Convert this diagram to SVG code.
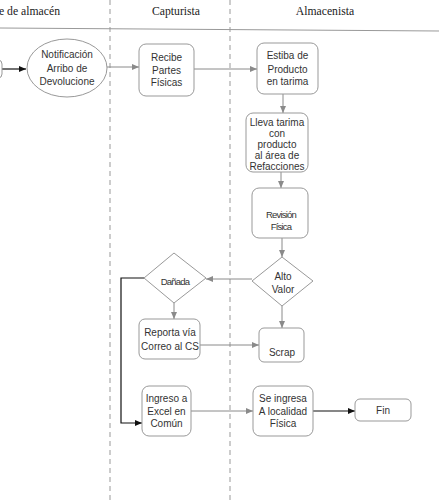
<svg xmlns="http://www.w3.org/2000/svg" width="439" height="503" viewBox="0 0 439 503">
<defs>
<marker id="ag" markerWidth="8" markerHeight="8" refX="7" refY="4" orient="auto" markerUnits="userSpaceOnUse"><path d="M0,1 L7,4 L0,7 Z" fill="#8a8a8a"/></marker>
<marker id="ak" markerWidth="8" markerHeight="8" refX="7" refY="4" orient="auto" markerUnits="userSpaceOnUse"><path d="M0,1 L7,4 L0,7 Z" fill="#111"/></marker>
<style>
.hd{font-family:"Liberation Serif",serif;font-size:11.7px;fill:#222}
.t{font-family:"Liberation Sans",Arial,sans-serif;font-size:10px;fill:#333;text-anchor:middle}
.c{font-family:"Liberation Sans",Arial,sans-serif;font-size:9.5px;fill:#333;text-anchor:middle;letter-spacing:-0.8px}
.box{fill:#fff;stroke:#999;stroke-width:1}
.lane{stroke:#999;stroke-width:1;stroke-dasharray:5 4;fill:none}
.cg{stroke:#8a8a8a;stroke-width:1;fill:none;marker-end:url(#ag)}
.ck{stroke:#111;stroke-width:1.2;fill:none;marker-end:url(#ak)}
</style>
</defs>
<rect width="439" height="503" fill="#fff"/>
<g id="header">
<text class="hd" x="-1" y="15">e de almacén</text>
<text class="hd" x="176" y="15" text-anchor="middle">Capturista</text>
<text class="hd" x="325" y="15" text-anchor="middle">Almacenista</text>
<line x1="0" y1="28" x2="439" y2="31" stroke="#999" stroke-width="1"/>
<line class="lane" x1="110" y1="0" x2="110" y2="503"/>
<line class="lane" x1="230" y1="0" x2="230" y2="503"/>
</g>
<g id="connectors">
<path class="ck" d="M2,69 L26,69"/>
<path class="cg" d="M107,67 L139,67"/>
<path class="cg" d="M194,69 L257,69"/>
<path class="cg" d="M283,94 L283,113"/>
<path class="cg" d="M281,172 L281,188"/>
<path class="cg" d="M282,238 L282,257"/>
<path class="cg" d="M282,306 L282,328"/>
<path class="cg" d="M252,279 L206,279"/>
<path class="cg" d="M174,303 L174,319"/>
<path class="cg" d="M197,345 L259,345"/>
<path class="ck" d="M144,278 L121,278 L121,423 L142,423"/>
<path class="cg" d="M191,411 L253,411"/>
<path class="ck" d="M313,411 L355,411"/>
</g>
<g id="start"><rect class="box" x="-12" y="60" width="14" height="18" rx="4"/></g>
<g id="notificacion">
<ellipse class="box" cx="67" cy="68" rx="40" ry="29"/>
<text class="t" x="67" y="57.5">Notificación</text>
<text class="t" x="67" y="71.5">Arribo de</text>
<text class="t" x="67" y="84.5">Devolucione</text>
</g>
<g id="recibe">
<rect class="box" x="139" y="44" width="55" height="52" rx="7"/>
<text class="t" x="166.5" y="61">Recibe</text>
<text class="t" x="166.5" y="74">Partes</text>
<text class="t" x="166.5" y="86">Físicas</text>
</g>
<g id="estiba">
<rect class="box" x="257" y="43" width="61" height="51" rx="7"/>
<text class="t" x="287.5" y="59">Estiba de</text>
<text class="t" x="287.5" y="72.5">Producto</text>
<text class="t" x="287.5" y="84.5">en tarima</text>
</g>
<g id="lleva">
<rect class="box" x="246" y="113" width="62" height="59" rx="7"/>
<text class="t" x="277" y="125.5">Lleva tarima</text>
<text class="t" x="277" y="136.5">con</text>
<text class="t" x="277" y="147.5">producto</text>
<text class="t" x="277" y="158.5">al área de</text>
<text class="t" x="277" y="169.5">Refacciones</text>
</g>
<g id="revision">
<rect class="box" x="252" y="188" width="56" height="50" rx="7"/>
<text class="c" x="281" y="217.5">Revisión</text>
<text class="c" x="281" y="229.5">Física</text>
</g>
<g id="alto">
<polygon class="box" points="282,257 313,281 282,306 252,281"/>
<text class="t" x="283" y="279.5">Alto</text>
<text class="t" x="283" y="292.5">Valor</text>
</g>
<g id="danada">
<polygon class="box" points="174,253 206,278 174,303 144,278"/>
<text class="c" x="175" y="284.5">Dañada</text>
</g>
<g id="reporta">
<rect class="box" x="139" y="319" width="61" height="40" rx="6"/>
<text class="t" x="170" y="336">Reporta vía</text>
<text class="t" x="170" y="349.5">Correo al CS</text>
</g>
<g id="scrap">
<rect class="box" x="259" y="328" width="45" height="34" rx="5"/>
<text class="t" x="282" y="355.5">Scrap</text>
</g>
<g id="ingreso">
<rect class="box" x="142" y="386" width="49" height="50" rx="7"/>
<text class="t" x="166.5" y="401.5">Ingreso a</text>
<text class="t" x="166.5" y="414.5">Excel en</text>
<text class="t" x="166.5" y="427">Común</text>
</g>
<g id="seingresa">
<rect class="box" x="253" y="386" width="60" height="50" rx="7"/>
<text class="t" x="283" y="401.5">Se ingresa</text>
<text class="t" x="283" y="414.5">A localidad</text>
<text class="t" x="283" y="427">Física</text>
</g>
<g id="fin">
<rect class="box" x="355" y="399" width="56" height="22" rx="5"/>
<text class="t" x="383" y="413.5">Fin</text>
</g>
</svg>
